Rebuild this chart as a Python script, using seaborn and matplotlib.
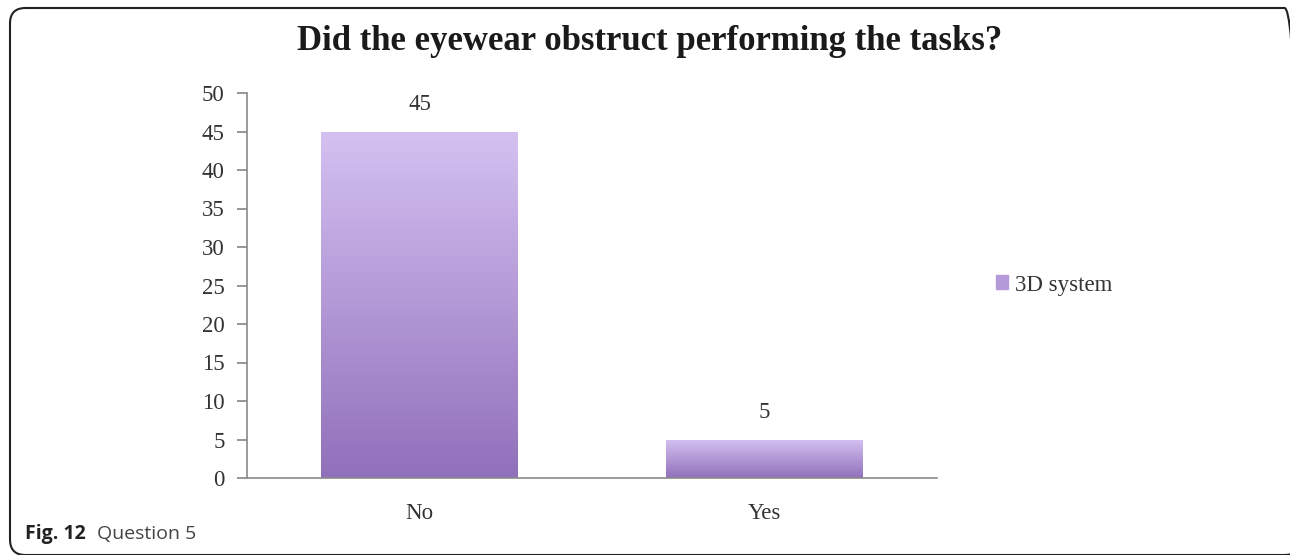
import numpy as np
import pandas as pd
import matplotlib
matplotlib.use("Agg")
import matplotlib.pyplot as plt
import seaborn as sns
from matplotlib.patches import FancyBboxPatch
from matplotlib.colors import LinearSegmentedColormap

categories = ["No", "Yes"]
values = [45, 5]
series_name = "3D system"
yticks = [0, 5, 10, 15, 20, 25, 30, 35, 40, 45, 50]
title = "Did the eyewear obstruct performing the tasks?"

sns.set_theme(style="white")
plt.rcParams['font.family'] = ['Liberation Serif', 'DejaVu Serif']

df = pd.DataFrame({"answer": categories, "count": values, "series": series_name})

fig = plt.figure(figsize=(12.9, 5.55), dpi=100)
ax = fig.add_axes([247/1290, 1-478/555, 690/1290, (478-93)/555])

sns.barplot(data=df, x="answer", y="count", hue="series", ax=ax,
            width=0.57, palette=["#b49ad8"], legend=True)

cmap = LinearSegmentedColormap.from_list("g", ["#d4c1f1", "#9170bb"])
grad = np.linspace(0, 1, 256).reshape(-1, 1)
for p in ax.patches:
    x0, y0 = p.get_x(), p.get_y()
    w, h = p.get_width(), p.get_height()
    if h <= 0:
        continue
    im = ax.imshow(grad, cmap=cmap, aspect="auto", origin="upper",
                   extent=[x0, x0 + w, y0, y0 + h], zorder=p.get_zorder() + 0.1)
    im.set_clip_path(p)
    p.set_edgecolor("none")

ax.set_xlim(-0.5, 1.5)
ax.set_ylim(0, 50)
ax.set_yticks(yticks)
ax.set_yticklabels([str(t) for t in yticks])
ax.set_xlabel("")
ax.set_ylabel("")

for c, v in zip(range(len(categories)), values):
    ax.text(c, v + 2.2, str(v), ha="center", va="bottom", fontsize=16.5, color="#333333")

for s in ["top", "right"]:
    ax.spines[s].set_visible(False)
for s in ["left", "bottom"]:
    ax.spines[s].set_color("#8a8a8a")
    ax.spines[s].set_linewidth(1.2)
ax.tick_params(axis="y", which="both", left=True, length=7, color="#8a8a8a",
               labelsize=16.5, labelcolor="#333333", pad=9)
ax.tick_params(axis="x", bottom=False, labelsize=16.5, labelcolor="#333333", pad=12)

leg = ax.legend(loc="center left", bbox_to_anchor=(975/1290, 1-285/555),
                bbox_transform=fig.transFigure, frameon=False, fontsize=16.5,
                handlelength=0.55, handleheight=0.55, handletextpad=0.3,
                labelcolor="#333333")
for h in leg.legend_handles:
    h.set_color("#b49ad8")

fig.text(650/1290, 1 - 50/555, title, ha="center", va="baseline",
         fontsize=25, fontweight="bold", color="#1a1a1a")

fig.text(25/1290, 1 - 534/555, "Fig. 12", ha="left", va="center", fontsize=14,
         fontweight="bold", family=["Open Sans", "DejaVu Sans"], color="#222222")
fig.text(97/1290, 1 - 534/555, "Question 5", ha="left", va="center", fontsize=14,
         family=["Open Sans", "DejaVu Sans"], color="#444444")

frame = FancyBboxPatch((10/1290, 1 - 555/555), 1290/1290, 547/555,
                       boxstyle="round,pad=0,rounding_size=0.012",
                       transform=fig.transFigure, fill=False, edgecolor="#222222",
                       linewidth=1.5, mutation_aspect=1290/555)
fig.patches.append(frame)

fig.savefig("out.png", dpi=100)
